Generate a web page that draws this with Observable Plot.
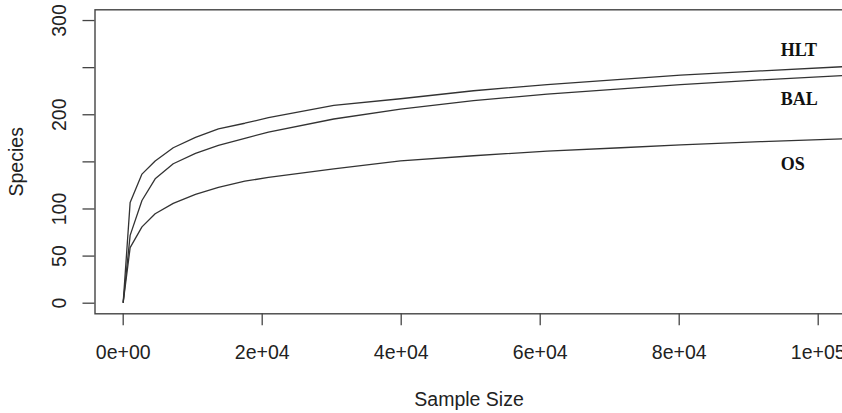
<!DOCTYPE html>
<html>
<head>
<meta charset="utf-8">
<script src="https://cdn.jsdelivr.net/npm/d3@7"></script>
<script src="https://cdn.jsdelivr.net/npm/@observablehq/plot@0.6"></script>
<style>
  html, body { margin: 0; padding: 0; background: #fff; overflow: hidden; width: 842px; height: 413px; }
  svg { display: block; max-width: none !important; width: 900px !important; height: 413px !important; }
</style>
</head>
<body>
<script>
// Rarefaction curves (sample size vs species)
const sampleSize = [1, 1000, 2700, 4600, 7200, 10400, 13700, 17500, 20900, 30300, 39900, 50400, 61000, 71600, 80200, 91700, 103500, 106000];
const hltSpecies = [1, 107, 137, 151, 165, 176, 185, 191, 197, 210, 217, 225.5, 232, 237.5, 242, 246.5, 251, 252];
const balSpecies = [1, 72, 109, 132, 148, 159, 167.5, 175, 181.5, 195.5, 206, 215, 222, 227.5, 232, 237, 241.5, 242.5];
const osSpecies  = [1, 59, 81, 95, 106, 115.5, 123, 129.5, 133.5, 142.5, 151, 156.5, 161.5, 165, 168, 171.5, 174.5, 175];

const seriesNames = ["HLT", "BAL", "OS"];
const seriesValues = [hltSpecies, balSpecies, osSpecies];
// label anchor points (data coordinates)
const labelX = [94600, 94600, 94600];
const labelY = [269, 216, 148];

const xTicks = [0, 20000, 40000, 60000, 80000, 100000];
const xTickLabels = ["0e+00", "2e+04", "4e+04", "6e+04", "8e+04", "1e+05"];
const yTicks = [0, 50, 100, 150, 200, 250, 300];
const yLabelTicks = [0, 50, 100, 200, 300];
const yTickLabels = ["0", "50", "100", "200", "300"];

const rows = seriesNames.flatMap((name, s) =>
  sampleSize.map((n, i) => ({series: name, n, species: seriesValues[s][i]}))
);
const labels = seriesNames.map((name, i) => ({name, x: labelX[i], y: labelY[i]}));
const xt = xTicks.map((v, i) => ({v, t: xTickLabels[i]}));
const yt = yLabelTicks.map((v, i) => ({v, t: yTickLabels[i]}));

const ink = "#444";
const txt = "#222";

const chart = Plot.plot({
  width: 900,
  height: 413,
  marginLeft: 94.5,
  marginRight: 12.8,
  marginTop: 9.3,
  marginBottom: 99.7,
  style: {fontFamily: "'Liberation Sans', Arial, sans-serif", fontSize: "19.5px", color: txt, background: "#fff", overflow: "visible", maxWidth: "none"},
  x: {domain: [-4057, 110000]},
  y: {domain: [-11.25, 311.4]},
  marks: [
    Plot.frame({stroke: ink, strokeWidth: 1.4}),
    Plot.axisY({ticks: yTicks, tickSize: 12, tickFormat: () => "", stroke: ink, strokeWidth: 1.3, label: null}),
    Plot.axisX({ticks: xTicks, tickSize: 12, tickFormat: () => "", stroke: ink, strokeWidth: 1.3, label: null}),
    Plot.text(xt, {x: "v", text: "t", frameAnchor: "bottom", dy: 39, lineAnchor: "middle", fill: txt}),
    Plot.text(yt, {y: "v", text: "t", frameAnchor: "left", dx: -35.7, rotate: -90, textAnchor: "middle", lineAnchor: "middle", fill: txt}),
    Plot.text(["Species"], {frameAnchor: "left", dx: -78.5, rotate: -90, textAnchor: "middle", lineAnchor: "middle", fill: txt}),
    Plot.text(["Sample Size"], {frameAnchor: "bottom", dx: -22.3, dy: 86, textAnchor: "middle", lineAnchor: "middle", fill: txt}),
    Plot.line(rows, {x: "n", y: "species", z: "series", stroke: "#333", strokeWidth: 1.3}),
    Plot.text(labels, {x: "x", y: "y", text: "name", textAnchor: "start", lineAnchor: "middle", fontFamily: "'Liberation Serif', 'Times New Roman', serif", fontWeight: "bold", fontSize: 18, fill: "#111"})
  ]
});
document.body.appendChild(chart);
</script>
</body>
</html>
